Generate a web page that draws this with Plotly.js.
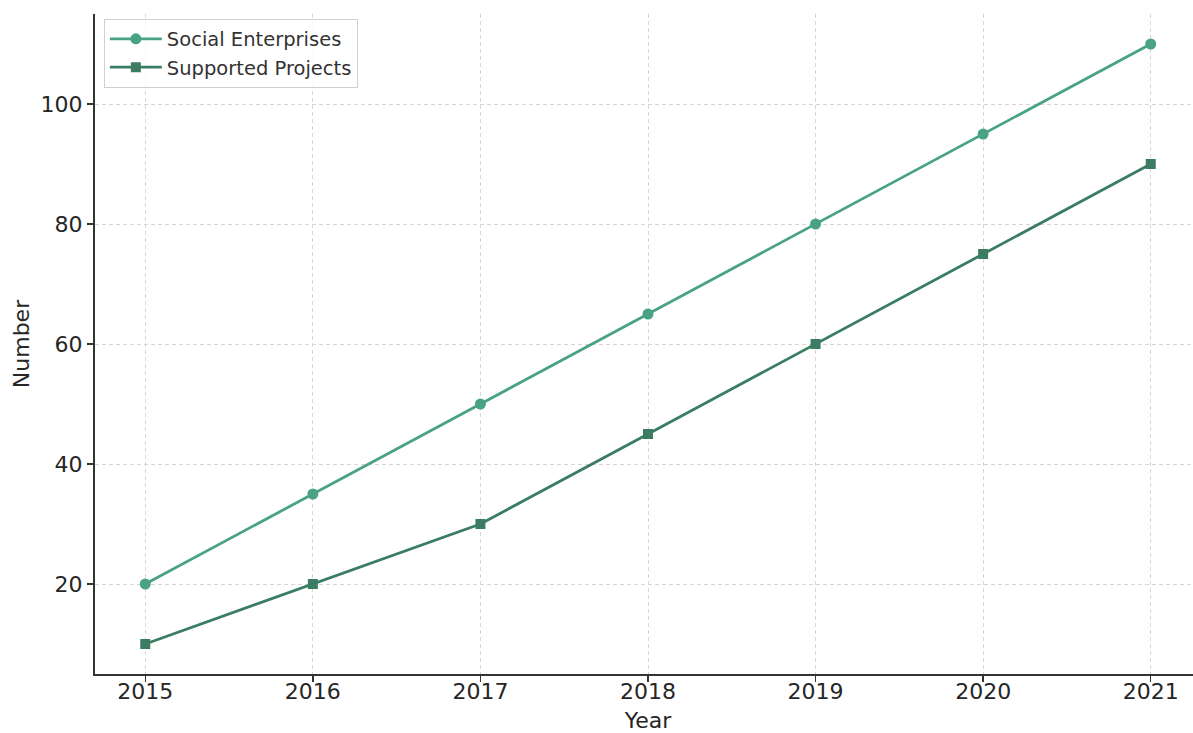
<!DOCTYPE html>
<html>
<head>
<meta charset="utf-8">
<script src="https://cdn.plot.ly/plotly-3.0.1.min.js"></script>
<style>
html, body { margin: 0; padding: 0; overflow: hidden; background: #fff; }
#chart { width: 1210px; height: 733px; }
</style>
</head>
<body>
<div id="chart"></div>
<script>
const years = [2015, 2016, 2017, 2018, 2019, 2020, 2021];
const socialEnterprises = [20, 35, 50, 65, 80, 95, 110];
const supportedProjects = [10, 20, 30, 45, 60, 75, 90];
const seriesNames = ["Social Enterprises", "Supported Projects"];

const traces = [
  {
    x: years, y: socialEnterprises, name: seriesNames[0],
    type: "scatter", mode: "lines+markers",
    line: { color: "#49a383", width: 2.8 },
    marker: { symbol: "circle", size: 11, color: "#49a383" }
  },
  {
    x: years, y: supportedProjects, name: seriesNames[1],
    type: "scatter", mode: "lines+markers",
    line: { color: "#3a7d63", width: 2.8 },
    marker: { symbol: "square", size: 10, color: "#3a7d63" }
  }
];

const layout = {
  width: 1210, height: 733,
  margin: { l: 95, r: 9, t: 14, b: 59 },
  paper_bgcolor: "#ffffff", plot_bgcolor: "#ffffff",
  font: { family: "DejaVu Sans", color: "#262626", size: 22 },
  showlegend: true,
  legend: {
    x: 0.008, y: 0.993, xanchor: "left", yanchor: "top",
    bgcolor: "rgba(255,255,255,0.8)", bordercolor: "#d0d0d0", borderwidth: 1,
    font: { size: 19.5, color: "#333333" }, itemwidth: 52, tracegroupgap: 2
  },
  xaxis: {
    range: [2014.7, 2021.3], tickvals: years, ticktext: years.map(String),
    showgrid: true, gridcolor: "#d6d6d6", griddash: "4px,3px", gridwidth: 1,
    showline: true, linecolor: "#333333", linewidth: 2,
    ticks: "outside", ticklen: 6, tickwidth: 1.5, tickcolor: "#333333",
    ticklabelstandoff: -9,
    zeroline: false,
    title: { text: "Year", font: { size: 22, color: "#262626" }, standoff: 10 }
  },
  yaxis: {
    range: [5, 115], tickvals: [20, 40, 60, 80, 100],
    showgrid: true, gridcolor: "#d6d6d6", griddash: "4px,3px", gridwidth: 1,
    showline: true, linecolor: "#333333", linewidth: 2,
    ticks: "outside", ticklen: 6, tickwidth: 1.5, tickcolor: "#333333",
    zeroline: false,
    title: { text: "Number", font: { size: 22, color: "#262626" }, standoff: 5 }
  }
};

Plotly.newPlot("chart", traces, layout, { displayModeBar: false, staticPlot: true });
</script>
</body>
</html>
